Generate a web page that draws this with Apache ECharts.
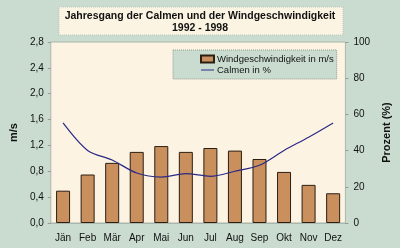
<!DOCTYPE html>
<html><head><meta charset="utf-8">
<script src="https://cdn.jsdelivr.net/npm/echarts@6/dist/echarts.min.js"></script>
<style>html,body{margin:0;padding:0;background:#c9dccf}#c{width:400px;height:248px}</style>
</head><body><div id="c"></div>
<script>
const categories = ['Jän','Feb','Mär','Apr','Mai','Jun','Jul','Aug','Sep','Okt','Nov','Dez'];
const windSpeed = [0.50,0.75,0.93,1.10,1.19,1.10,1.16,1.12,0.99,0.79,0.59,0.46];
const calmen = [55.3,40.1,34.8,27.6,25.4,27.3,25.8,28.6,31.9,40.1,47.4,55.3];
const leftTicks = [0,0.4,0.8,1.2,1.6,2.0,2.4,2.8];
const rightTicks = [0,20,40,60,80,100];

const chart = echarts.init(document.getElementById('c'), null, {renderer:'canvas'});
const font = 'Liberation Sans, Arial, sans-serif';
chart.setOption({
  backgroundColor: '#c9dccf',
  animation: false,
  graphic: [
    {type:'rect', shape:{x:59,y:7,width:284,height:28}, style:{fill:'#fbf4e3', stroke:'#b9c9bc', lineWidth:1, lineDash:[1,1]}, z:0},
    {type:'text', left:'center', top:10, style:{text:'Jahresgang der Calmen und der Windgeschwindigkeit\n1992 - 1998', font:'bold 10.5px '+font, fill:'#111', textAlign:'center', lineHeight:12}, z:1}
  ],
  grid: {left:37, right:36, top:42, bottom:25, show:true, backgroundColor:'#fcf3e3', borderColor:'#aab7ac', borderWidth:1},
  legend: {
    left:173, top:50, orient:'vertical', backgroundColor:'#c9dccf', borderColor:'#8f9b91', borderWidth:1, borderType:'dotted',
    padding:[4,3,4,27], itemGap:1, itemWidth:13, itemHeight:7,
    textStyle:{fontFamily:font, fontSize:9.5, color:'#111', padding:[0,0,0,-2]},
    data:[{name:'Windgeschwindigkeit in m/s', icon:'rect'},{name:'Calmen in %', icon:'path://M0,0 L13,0 L13,1 L0,1 Z'}]
  },
  xAxis: {type:'category', data:categories, axisTick:{show:false}, axisLine:{lineStyle:{color:'#aab7ac'}},
    axisLabel:{fontFamily:font, fontSize:10, color:'#111', margin:10}},
  yAxis: [
    {type:'value', min:0, max:2.8, interval:0.4, name:'m/s', nameLocation:'middle', nameGap:25, nameRotate:90,
     nameTextStyle:{fontFamily:font, fontWeight:'bold', fontSize:11, color:'#111'},
     splitLine:{show:false}, axisLine:{show:false}, axisTick:{show:true, length:3, lineStyle:{color:'#999'}},
     axisLabel:{fontFamily:font, fontSize:10, color:'#111', margin:7, formatter:v=>v.toFixed(1).replace('.',',')}},
    {type:'value', min:0, max:100, interval:20, name:'Prozent (%)', nameLocation:'middle', nameGap:27, nameRotate:90,
     nameTextStyle:{fontFamily:font, fontWeight:'bold', fontSize:11, color:'#111'},
     splitLine:{show:false}, axisLine:{show:false}, axisTick:{show:true, length:3, lineStyle:{color:'#999'}},
     axisLabel:{fontFamily:font, fontSize:10, color:'#111', margin:8}}
  ],
  series: [
    {name:'Windgeschwindigkeit in m/s', type:'bar', data:windSpeed, barWidth:14, yAxisIndex:0,
     itemStyle:{color:'#c98f5c', borderColor:'#2b1f14', borderWidth:1}},
    {name:'Calmen in %', type:'line', data:calmen, yAxisIndex:1, smooth:0.3, symbol:'none',
     lineStyle:{color:'#2a2a86', width:1.2}, itemStyle:{color:'#2a2a86'}}
  ]
});
</script></body></html>
